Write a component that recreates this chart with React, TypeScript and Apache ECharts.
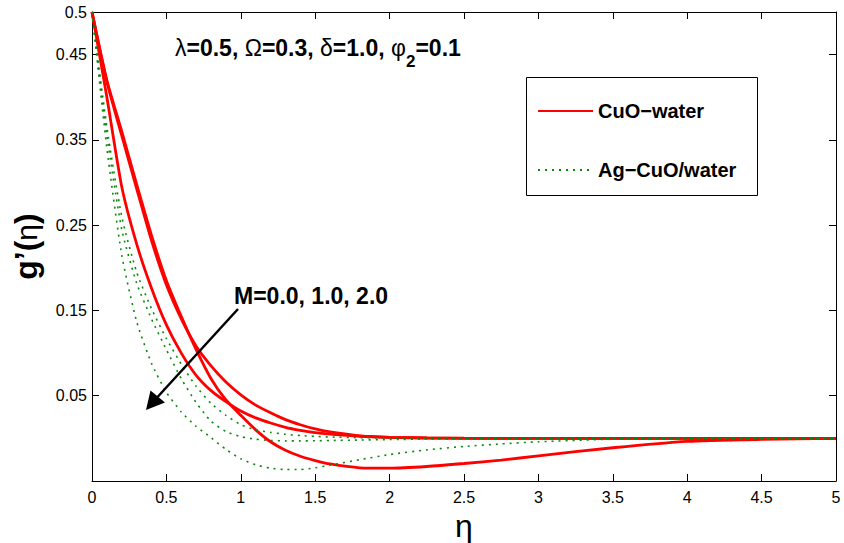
import React, { useEffect, useRef } from "react";
import * as echarts from "echarts";

const etaValues = [0, 0.1, 0.2, 0.3, 0.4, 0.5, 0.6, 0.7, 0.8, 0.9, 1.0, 1.1, 1.2, 1.3, 1.4, 1.5, 1.6, 1.8, 2.0, 2.25, 2.5, 2.75, 3.0, 3.5, 4.0, 4.5, 5.0];

const cuoCurveA = [0.5, 0.418, 0.355, 0.293, 0.232, 0.18, 0.14, 0.108, 0.085, 0.066, 0.051, 0.039, 0.03, 0.022, 0.016, 0.011, 0.0075, 0.003, 0.0012, 0.0004, 0.0001, 0, 0, 0, 0, 0, 0];
const cuoCurveB = [0.5, 0.4, 0.295, 0.228, 0.176, 0.133, 0.1, 0.074, 0.056, 0.043, 0.032, 0.024, 0.018, 0.013, 0.0095, 0.0068, 0.005, 0.0025, 0.0012, 0.0005, 0.0002, 0, 0, 0, 0, 0, 0];
const cuoCurveC = [0.5, 0.42, 0.36, 0.298, 0.238, 0.185, 0.143, 0.104, 0.07, 0.045, 0.027, 0.01, -0.004, -0.014, -0.021, -0.026, -0.03, -0.0345, -0.035, -0.033, -0.0295, -0.0255, -0.0205, -0.011, -0.0035, -0.0012, 0];

const agCurveA = [0.5, 0.365, 0.26, 0.195, 0.152, 0.117, 0.087, 0.061, 0.041, 0.027, 0.016, 0.01, 0.007, 0.0048, 0.0033, 0.0023, 0.0016, 0.0008, 0.0003, 0, 0, 0, 0, 0, 0, 0, 0];
const agCurveB = [0.5, 0.355, 0.245, 0.182, 0.14, 0.104, 0.07, 0.042, 0.02, 0.008, 0.002, -0.001, -0.0025, -0.003, -0.003, -0.0028, -0.0025, -0.002, -0.0014, -0.0008, -0.0004, -0.0002, 0, 0, 0, 0, 0];
const agCurveC = [0.5, 0.34, 0.215, 0.137, 0.088, 0.054, 0.031, 0.014, 0.001, -0.013, -0.024, -0.031, -0.035, -0.0365, -0.0365, -0.0345, -0.0315, -0.025, -0.019, -0.0135, -0.0095, -0.0065, -0.004, -0.001, 0, 0, 0];

const yTickValues = [0.05, 0.15, 0.25, 0.35, 0.45, 0.5];
const seriesNames = ["CuO\u2212water", "Ag\u2212CuO/water"];

const FONT = "'Liberation Sans', Arial, Helvetica, sans-serif";

function pairs(ys: number[]) {
  return etaValues.map((x, i) => [x, ys[i]]);
}

export default function App() {
  const ref = useRef<HTMLDivElement>(null);
  useEffect(() => {
    if (!ref.current) return;
    const chart = echarts.init(ref.current, undefined, { renderer: "svg" });
    const red = { color: "#ff0000", width: 2.8, type: "solid" as const };
    const green = { color: "#0a8a0a", width: 1.6, type: [2, 5] as any };
    const mk = (name: string, ys: number[], ls: any) => ({
      type: "line",
      name,
      data: pairs(ys),
      showSymbol: false,
      symbol: "none",
      smooth: 0.2,
      lineStyle: ls,
      itemStyle: { color: ls.color },
      xAxisIndex: 0,
      yAxisIndex: 0,
      z: 2,
    });
    const axisCommon = {
      axisLine: { show: true, onZero: false, lineStyle: { color: "#000", width: 1 } },
      splitLine: { show: false },
    };
    chart.setOption({
      animation: false,
      backgroundColor: "#fff",
      grid: { left: 92, right: 8, top: 12, bottom: 62, containLabel: false, outerBoundsMode: "none" },
      xAxis: [
        {
          type: "value",
          min: 0,
          max: 5,
          interval: 0.5,
          ...axisCommon,
          axisTick: { show: true, inside: true, length: 7, lineStyle: { color: "#000" } },
          axisLabel: { color: "#000", fontSize: 16, fontFamily: FONT, margin: 8, formatter: (v: number) => String(v) },
          name: "\u03b7",
          nameLocation: "middle",
          nameGap: 28,
          nameTextStyle: { fontSize: 32, fontFamily: FONT, color: "#000" },
        },
        {
          type: "value",
          position: "top",
          min: 0,
          max: 5,
          interval: 0.5,
          ...axisCommon,
          axisTick: { show: true, inside: true, length: 7, lineStyle: { color: "#000" } },
          axisLabel: { show: false },
        },
      ],
      yAxis: [
        {
          type: "value",
          min: -0.05,
          max: 0.5,
          ...axisCommon,
          axisTick: { show: true, inside: true, length: 7, customValues: yTickValues, lineStyle: { color: "#000" } },
          axisLabel: { color: "#000", fontSize: 16, fontFamily: FONT, margin: 5, customValues: yTickValues, formatter: (v: number) => String(Number(v.toFixed(2))) },
          name: "{b|g\u2019(}{g|\u03b7}{b|)}",
          nameLocation: "middle",
          nameRotate: 90,
          nameGap: 50,
          nameTextStyle: {
            color: "#000",
            rich: {
              b: { fontSize: 32, fontWeight: "bold", fontFamily: FONT, color: "#000" },
              g: { fontSize: 30, fontFamily: FONT, color: "#000" },
            },
          },
        },
        {
          type: "value",
          position: "right",
          min: -0.05,
          max: 0.5,
          ...axisCommon,
          axisTick: { show: true, inside: true, length: 7, customValues: yTickValues, lineStyle: { color: "#000" } },
          axisLabel: { show: false },
        },
      ],
      legend: {
        show: true,
        orient: "vertical",
        left: 537,
        top: 101,
        padding: 0,
        itemWidth: 55,
        itemHeight: 20,
        itemGap: 39,
        z: 10,
        itemStyle: { opacity: 0 },
        data: seriesNames,
        textStyle: { fontSize: 20, fontWeight: "bold", fontFamily: FONT, color: "#000" },
      },
      graphic: [
        {
          type: "rect",
          z: 5,
          shape: { x: 526.5, y: 77.5, width: 231, height: 118 },
          style: { fill: "#fff", stroke: "#000", lineWidth: 1 },
        },
        {
          type: "text",
          z: 6,
          x: 175,
          y: 48,
          style: {
            text: "{g|\u03bb}{b|=0.5, }{g|\u03a9}{b|=0.3, }{g|\u03b4}{b|=1.0, }{g|\u03c6}{s|2}{b|=0.1}",
            verticalAlign: "middle",
            align: "left",
            rich: {
              b: { fontSize: 23, fontWeight: "bold", fontFamily: FONT, fill: "#000" },
              g: { fontSize: 23, fontFamily: FONT, fill: "#000" },
              s: { fontSize: 17, fontWeight: "bold", fontFamily: FONT, fill: "#000", padding: [26, 0, 0, 0] },
            },
          },
        },
        {
          type: "text",
          z: 6,
          x: 234,
          y: 296,
          style: {
            text: "M=0.0, 1.0, 2.0",
            verticalAlign: "middle",
            align: "left",
            fontSize: 23,
            fontWeight: "bold",
            fontFamily: FONT,
            fill: "#000",
          },
        },
        {
          type: "line",
          z: 6,
          shape: { x1: 238, y1: 309, x2: 153, y2: 402 },
          style: { stroke: "#000", lineWidth: 2.5 },
        },
        {
          type: "polygon",
          z: 6,
          shape: { points: [[146, 410], [150.5, 390.5], [165, 402.5]] },
          style: { fill: "#000" },
        },
      ],
      series: [
        mk(seriesNames[0], cuoCurveA, red),
        mk(seriesNames[0], cuoCurveB, red),
        mk(seriesNames[0], cuoCurveC, red),
        mk(seriesNames[1], agCurveA, green),
        mk(seriesNames[1], agCurveB, green),
        mk(seriesNames[1], agCurveC, green),
      ],
    });
    return () => chart.dispose();
  }, []);
  return <div ref={ref} style={{ width: 844, height: 543, position: "absolute", left: 0, top: 0 }} />;
}
